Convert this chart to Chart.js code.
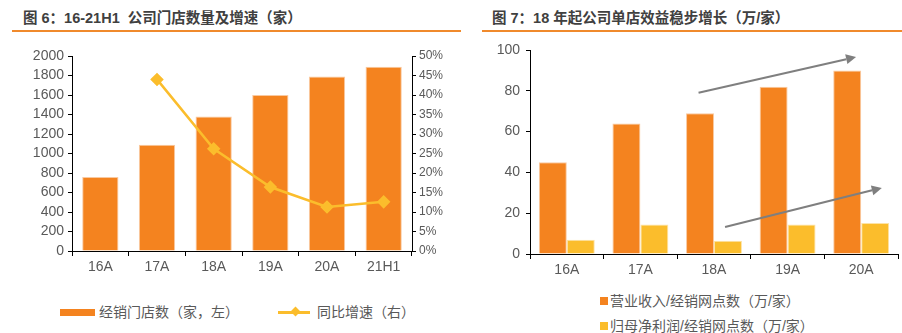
<!DOCTYPE html>
<html>
<head>
<meta charset="utf-8">
<script src="https://cdn.jsdelivr.net/npm/chart.js@4.4.0/dist/chart.umd.min.js"></script>
<style>
  body { margin: 0; width: 902px; height: 333px; background: #fff; position: relative; overflow: hidden;
         font-family: "Liberation Sans", Arial, "Noto Sans CJK SC", sans-serif; }
  .title { position: absolute; top: 6px; font-weight: bold; font-size: 14.5px; color: #404040; white-space: nowrap; }
  .rule { position: absolute; top: 30px; height: 2px; background: #F08A2C; }
  .box { position: absolute; top: 0; width: 451px; height: 280px; }
  .lg { position: absolute; font-size: 14px; color: #595959; white-space: nowrap; line-height: 16px; }
  .sw { position: absolute; }
</style>
</head>
<body>
<div class="title" style="left:23px">图 6：16-21H1&nbsp; 公司门店数量及增速（家）</div>
<div class="rule" style="left:12px;width:449px"></div>
<div class="title" style="left:492px">图 7：18 年起公司单店效益稳步增长（万/家）</div>
<div class="rule" style="left:482px;width:420px"></div>

<div class="box" style="left:0"><canvas id="storeChart"></canvas></div>
<div class="box" style="left:451px"><canvas id="profitChart"></canvas></div>

<!-- legends -->
<div class="sw" style="left:60px;top:309px;width:35px;height:7px;background:#F4831F"></div>
<div class="lg" style="left:99px;top:304px">经销门店数（家，左）</div>
<div class="sw" style="left:278px;top:311px;width:32px;height:3px;background:#FBBD2C"></div>
<div class="sw" style="left:292px;top:308px;width:7px;height:7px;background:#FBBD2C;transform:rotate(45deg)"></div>
<div class="lg" style="left:317px;top:304px">同比增速（右）</div>

<div class="sw" style="left:600px;top:297px;width:8px;height:8px;background:#F4831F"></div>
<div class="lg" style="left:610px;top:293px">营业收入/经销网点数（万/家）</div>
<div class="sw" style="left:600px;top:322px;width:8px;height:8px;background:#FBBD2C"></div>
<div class="lg" style="left:610px;top:318px">归母净利润/经销网点数（万/家）</div>

<script>
// chart 1: stores
const storeLabels = ["16A", "17A", "18A", "19A", "20A", "21H1"];
const storeCounts = [760, 1090, 1380, 1600, 1790, 1890];
const storeGrowth = [null, 44, 26.2, 16.4, 11.3, 12.6];

// chart 2: per-store revenue / profit
const yearLabels = ["16A", "17A", "18A", "19A", "20A"];
const revenuePerStore = [45, 64, 69, 82, 90];
const profitPerStore = [7, 14.5, 6.5, 14.5, 15.2];

// trend arrows, in data units (category index, value)
const trendArrows = [
  { from: [1.79, 79], to: [3.93, 96.6] },
  { from: [2.15, 13.2], to: [4.28, 32.4] }
];

const ORANGE = "#F4831F";
const YELLOW = "#FBBD2C";
const AXIS = "#000";
const TICK = "#595959";

Chart.defaults.font.family = '"Liberation Sans", Arial, "Noto Sans CJK SC", sans-serif';
Chart.defaults.font.size = 14;
Chart.defaults.color = TICK;
Chart.defaults.animation = false;

function axisGrid(len) {
  return { drawOnChartArea: false, drawTicks: true, tickLength: len, color: AXIS, lineWidth: 1 };
}

new Chart(document.getElementById("storeChart"), {
  data: {
    labels: storeLabels,
    datasets: [
      {
        type: "line",
        data: storeGrowth,
        yAxisID: "y1",
        borderColor: YELLOW,
        backgroundColor: YELLOW,
        borderWidth: 2.5,
        pointStyle: "rectRot",
        pointRadius: 5,
        spanGaps: false,
        order: 0
      },
      {
        type: "bar",
        data: storeCounts,
        yAxisID: "y",
        backgroundColor: ORANGE,
        borderColor: "#F9C9A0",
        borderWidth: 1,
        categoryPercentage: 1,
        barPercentage: 0.64,
        order: 1
      }
    ]
  },
  options: {
    responsive: true,
    maintainAspectRatio: false,
    layout: { padding: { top: 56, left: 0, right: 0, bottom: 0 } },
    plugins: { legend: { display: false }, tooltip: { enabled: false } },
    scales: {
      x: {
        grid: axisGrid(5),
        border: { color: AXIS },
        ticks: { color: TICK, padding: 3 },
        afterFit: (s) => { s.height = 29; }
      },
      y: {
        position: "left",
        min: 0, max: 2000,
        grid: axisGrid(4),
        border: { color: AXIS },
        ticks: { stepSize: 200, autoSkip: false, color: TICK, padding: 4, callback: (v) => String(v) },
        afterFit: (s) => { s.width = 72; }
      },
      y1: {
        position: "right",
        min: 0, max: 50,
        grid: axisGrid(4),
        border: { color: AXIS },
        ticks: { stepSize: 5, autoSkip: false, color: TICK, padding: 3, font: { size: 12 }, callback: (v) => v + "%" },
        afterFit: (s) => { s.width = 39; }
      }
    }
  }
});

const arrowPlugin = {
  id: "trendArrows",
  afterDatasetsDraw(chart) {
    const ctx = chart.ctx;
    const xs = chart.scales.x, ys = chart.scales.y;
    ctx.save();
    ctx.strokeStyle = "#7F7F7F";
    ctx.fillStyle = "#7F7F7F";
    ctx.lineWidth = 2;
    trendArrows.forEach((a) => {
      const x0 = xs.getPixelForValue(a.from[0]), y0 = ys.getPixelForValue(a.from[1]);
      const x1 = xs.getPixelForValue(a.to[0]), y1 = ys.getPixelForValue(a.to[1]);
      const ang = Math.atan2(y1 - y0, x1 - x0);
      const head = 10, half = 5;
      const bx = x1 - head * Math.cos(ang), by = y1 - head * Math.sin(ang);
      ctx.beginPath();
      ctx.moveTo(x0, y0);
      ctx.lineTo(bx, by);
      ctx.stroke();
      ctx.beginPath();
      ctx.moveTo(x1, y1);
      ctx.lineTo(bx + half * Math.sin(ang), by - half * Math.cos(ang));
      ctx.lineTo(bx - half * Math.sin(ang), by + half * Math.cos(ang));
      ctx.closePath();
      ctx.fill();
    });
    ctx.restore();
  }
};

new Chart(document.getElementById("profitChart"), {
  type: "bar",
  data: {
    labels: yearLabels,
    datasets: [
      {
        data: revenuePerStore,
        backgroundColor: ORANGE,
        borderColor: "#F9C9A0",
        borderWidth: 1,
        categoryPercentage: 0.76,
        barPercentage: 1
      },
      {
        data: profitPerStore,
        backgroundColor: YELLOW,
        borderColor: "#FDE3A6",
        borderWidth: 1,
        categoryPercentage: 0.76,
        barPercentage: 1
      }
    ]
  },
  options: {
    responsive: true,
    maintainAspectRatio: false,
    layout: { padding: { top: 50, left: 0, right: 4, bottom: 0 } },
    plugins: { legend: { display: false }, tooltip: { enabled: false } },
    scales: {
      x: {
        grid: axisGrid(5),
        border: { color: AXIS },
        ticks: { color: TICK, padding: 3 },
        afterFit: (s) => { s.height = 26; }
      },
      y: {
        min: 0, max: 100,
        grid: axisGrid(4),
        border: { color: AXIS },
        ticks: { stepSize: 20, color: TICK, padding: 6 },
        afterFit: (s) => { s.width = 79; }
      }
    }
  },
  plugins: [arrowPlugin]
});
</script>
</body>
</html>
